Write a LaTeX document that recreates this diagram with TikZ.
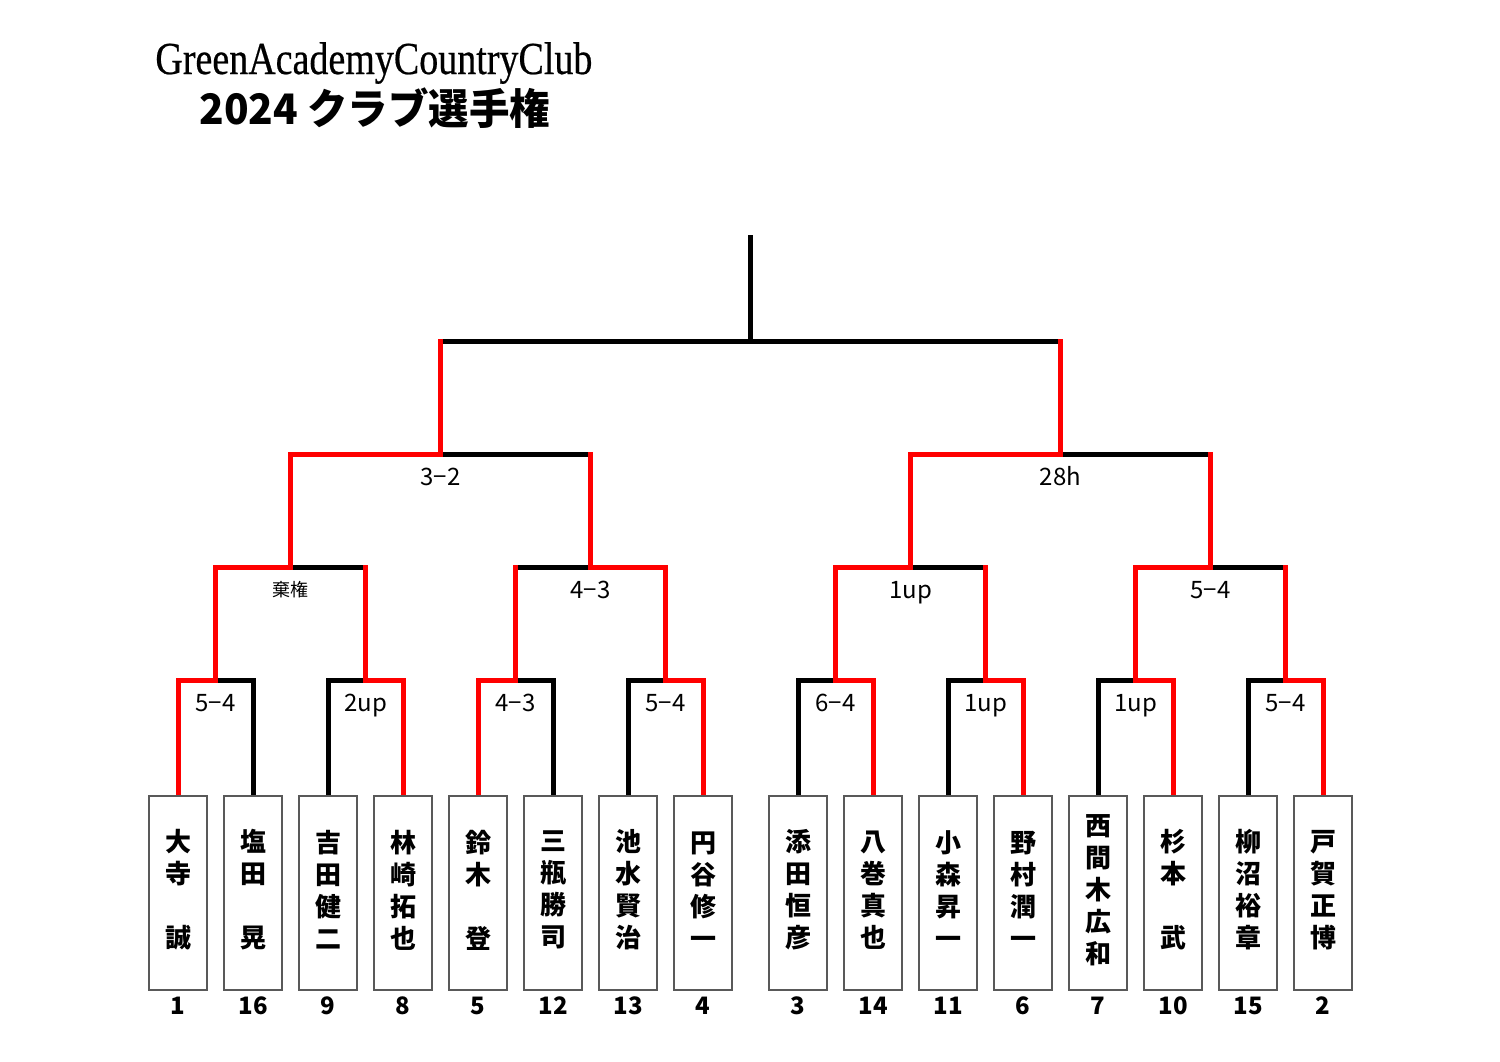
\documentclass[tikz,border=0pt]{standalone}
\usepackage{fontspec}
\setmainfont{Liberation Serif}
\newfontfamily\titlefont[FakeBold=0.5]{Liberation Serif}
\newfontfamily\jp{Noto Sans CJK JP}
\definecolor{winred}{RGB}{255,0,0}
\begin{document}
\begin{tikzpicture}[x=0.5pt,y=-0.5pt,
  hseg/.style={line width=2.5pt,draw=#1},
  vseg/.style={line width=2.5pt,draw=#1,line cap=rect},
  pbox/.style={draw=black!65,line width=0.6pt,fill=white,minimum width=29pt,minimum height=97pt,inner sep=0pt},
  pname/.style={inner sep=0pt,align=center,font=\jp\bfseries\fontsize{13pt}{16pt}\selectfont},
  pnum/.style={font=\jp\bfseries\fontsize{12pt}{14pt}\selectfont,inner sep=0pt},
  score/.style={font=\jp\fontsize{12pt}{14pt}\selectfont,inner sep=0pt,anchor=base},
  scoresm/.style={font=\jp\fontsize{9pt}{11pt}\selectfont,inner sep=0pt}]
\useasboundingbox (0,0) rectangle (1500,1061);
\fill[white] (0,0) rectangle (1500,1061);

% title
\node[anchor=base west,inner sep=0pt] (t1) at (155,74)
  {\resizebox{218.5pt}{\height}{\titlefont\fontsize{22.9pt}{26pt}\selectfont GreenAcademyCountryClub}};
\node[anchor=base west,inner sep=0pt] (t2) at (199,124)
  {\resizebox{175.5pt}{\height}{\jp\bfseries\fontsize{21pt}{24pt}\selectfont 2024 クラブ選手権}};

% junctions
\coordinate (m1) at (215.5,680);
\coordinate (m2) at (365.5,680);
\coordinate (m3) at (515.5,680);
\coordinate (m4) at (665.5,680);
\coordinate (m5) at (835.5,680);
\coordinate (m6) at (985.5,680);
\coordinate (m7) at (1135.5,680);
\coordinate (m8) at (1285.5,680);
\coordinate (q1) at (290.5,567);
\coordinate (q2) at (590.5,567);
\coordinate (q3) at (910.5,567);
\coordinate (q4) at (1210.5,567);
\coordinate (s1) at (440.5,454);
\coordinate (s2) at (1060.5,454);
\coordinate (f) at (750.5,341);
\coordinate (top) at (750.5,237);

% box top points
\foreach \i/\x in {1/178,2/253,3/328,4/403,5/478,6/553,7/628,8/703,
  9/798,10/873,11/948,12/1023,13/1098,14/1173,15/1248,16/1323}
  \coordinate (c\i) at (\x,796);

% horizontals, round 1
\foreach \a/\b/\m/\ca/\cb in {
  1/2/m1/winred/black, 3/4/m2/black/winred, 5/6/m3/winred/black, 7/8/m4/black/winred,
  9/10/m5/black/winred, 11/12/m6/black/winred, 13/14/m7/black/winred, 15/16/m8/black/winred}{
  \draw[hseg=\ca] (c\a |- \m) -- (\m);
  \draw[hseg=\cb] (c\b |- \m) -- (\m);
}
% horizontals, later rounds
\foreach \a/\b/\m/\ca/\cb in {
  m1/m2/q1/winred/black, m3/m4/q2/black/winred, m5/m6/q3/winred/black, m7/m8/q4/winred/black,
  q1/q2/s1/winred/black, q3/q4/s2/winred/black, s1/s2/f/black/black}{
  \draw[hseg=\ca] (\a |- \m) -- (\m);
  \draw[hseg=\cb] (\b |- \m) -- (\m);
}

% verticals from players
\foreach \i/\m/\c in {
  1/m1/winred, 2/m1/black, 3/m2/black, 4/m2/winred, 5/m3/winred, 6/m3/black, 7/m4/black, 8/m4/winred,
  9/m5/black, 10/m5/winred, 11/m6/black, 12/m6/winred, 13/m7/black, 14/m7/winred, 15/m8/black, 16/m8/winred}
  \draw[vseg=\c] (c\i) -- (c\i |- \m);
% verticals from matches
\foreach \a/\m in {m1/q1, m2/q1, m3/q2, m4/q2, m5/q3, m6/q3, m7/q4, m8/q4, q1/s1, q2/s1, q3/s2, q4/s2, s1/f, s2/f}
  \draw[vseg=winred] (\a) -- (\a |- \m);
\draw[vseg=black] (f) -- (top);

% boxes, names and numbers
\foreach \i/\x/\nm/\num in {
  1/178/{大\\寺\\~\\誠}/1,
  2/253/{塩\\田\\~\\晃}/16,
  3/328/{吉\\田\\健\\二}/9,
  4/403/{林\\崎\\拓\\也}/8,
  5/478/{鈴\\木\\~\\登}/5,
  6/553/{三\\瓶\\勝\\司}/12,
  7/628/{池\\水\\賢\\治}/13,
  8/703/{円\\谷\\修\\一}/4,
  9/798/{添\\田\\恒\\彦}/3,
  10/873/{八\\巻\\真\\也}/14,
  11/948/{小\\森\\昇\\一}/11,
  12/1023/{野\\村\\潤\\一}/6,
  13/1098/{西\\間\\木\\広\\和}/7,
  14/1173/{杉\\本\\~\\武}/10,
  15/1248/{柳\\沼\\裕\\章}/15,
  16/1323/{戸\\賀\\正\\博}/2}{
  \node[pbox] (p\i) at (\x,893) {};
  \node[pname] (nm\i) at (\x,890) {\nm};
  \node[pnum] (n\i) at (\x,1006) {\num};
}

% scores
\node[score] (l1) at (215.5,711) {5−4};
\node[score] (l2) at (365.5,711) {2up};
\node[score] (l3) at (515.5,711) {4−3};
\node[score] (l4) at (665.5,711) {5−4};
\node[score] (l5) at (835.5,711) {6−4};
\node[score] (l6) at (985.5,711) {1up};
\node[score] (l7) at (1135.5,711) {1up};
\node[score] (l8) at (1285.5,711) {5−4};
\node[scoresm] (lq1) at (290.5,590) {棄権};
\node[score] (lq2) at (590.5,598) {4−3};
\node[score] (lq3) at (910.5,598) {1up};
\node[score] (lq4) at (1210.5,598) {5−4};
\node[score] (ls1) at (440.5,485) {3−2};
\node[score] (ls2) at (1060.5,485) {28h};
\end{tikzpicture}
\end{document}
